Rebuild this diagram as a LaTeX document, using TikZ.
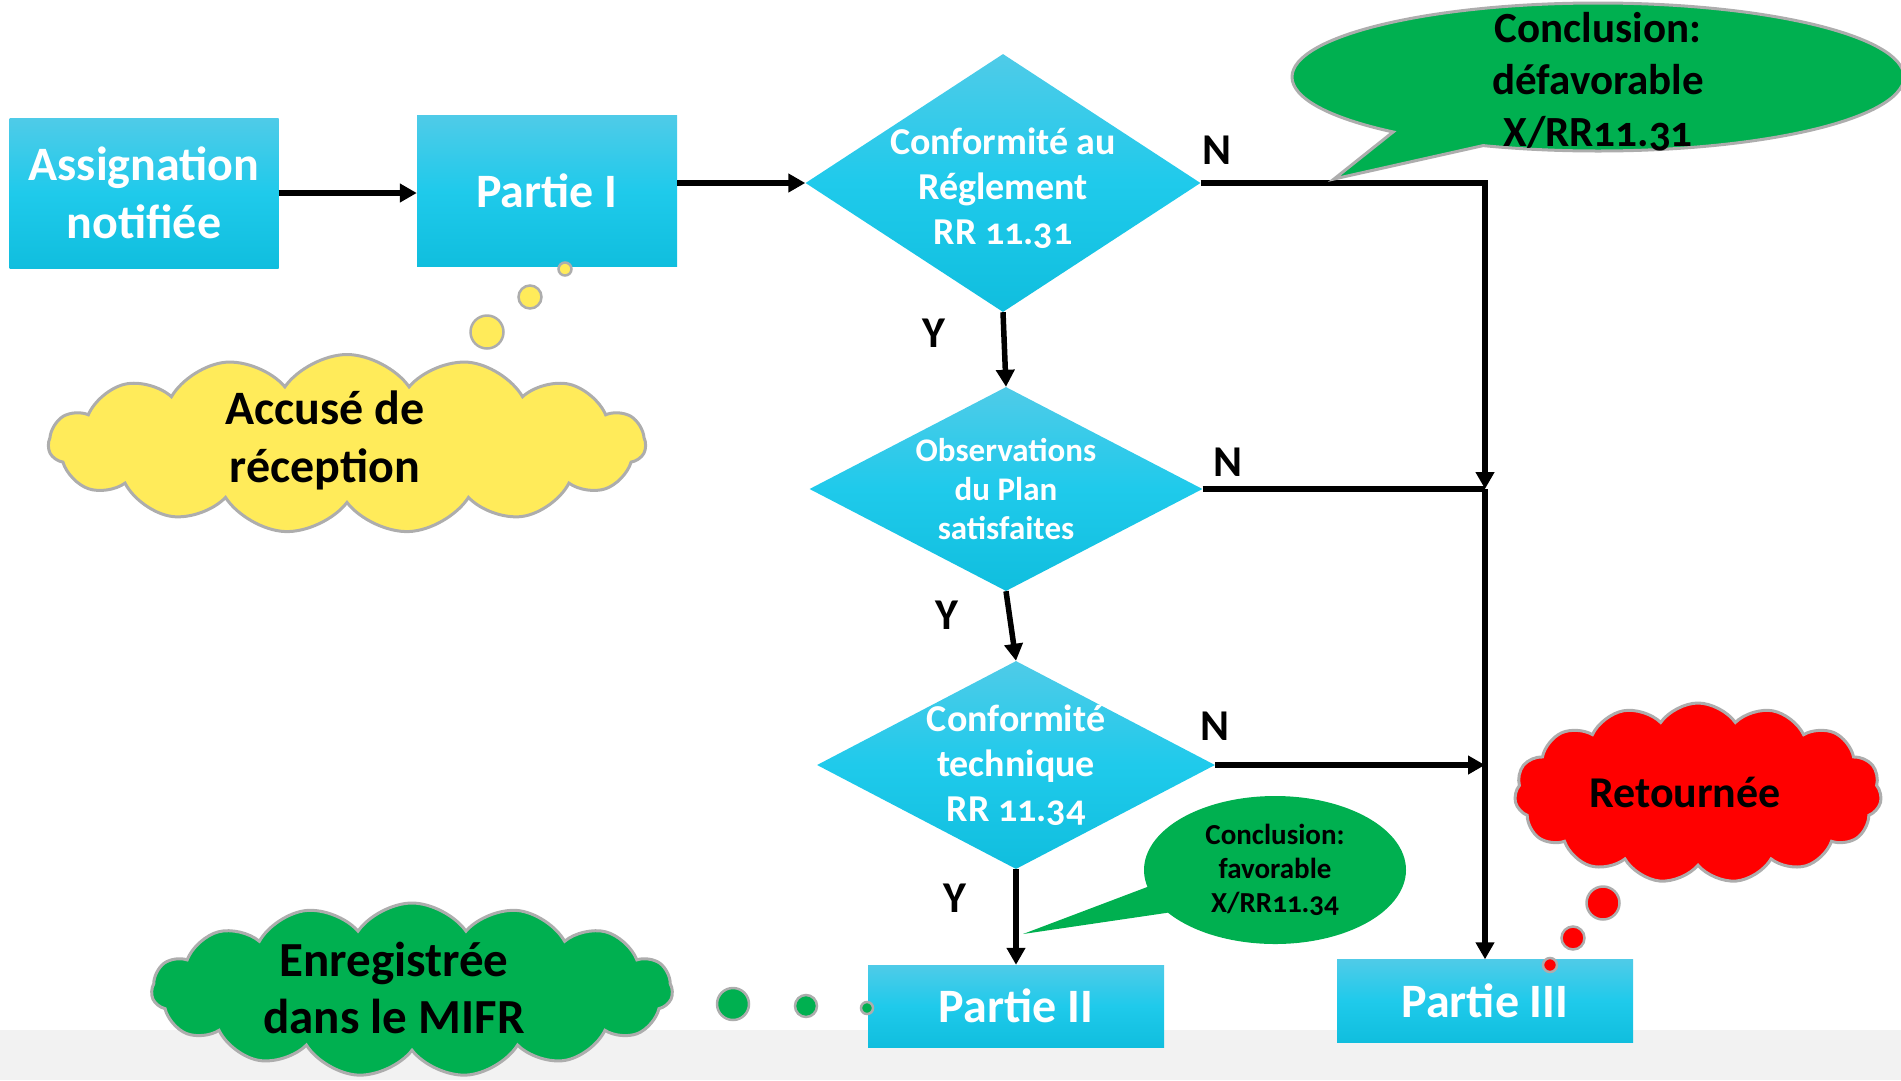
\documentclass[tikz,border=0pt]{standalone}
\usepackage{fontspec}
\setmainfont{Carlito}[Numbers=OldStyle]
\usetikzlibrary{shapes.geometric,shapes.symbols,shapes.callouts,arrows.meta}
\definecolor{boxtop}{HTML}{4FCBE8}
\definecolor{boxmid}{HTML}{1FCAEB}
\definecolor{boxbot}{HTML}{10BEDE}
\definecolor{okgreen}{HTML}{00B050}
\definecolor{ackyellow}{HTML}{FFEB5A}
\definecolor{retred}{HTML}{FF0000}
\definecolor{rimgray}{HTML}{ADADAD}
\definecolor{bandgray}{HTML}{F2F2F2}
\tikzset{
  stage/.style={rectangle, inner sep=0pt, top color=boxtop, bottom color=boxbot, middle color=boxmid,
    text=white, align=center, font=\bfseries\fontsize{48pt}{58pt}\selectfont},
  decision/.style={diamond, inner sep=0pt, top color=boxtop, bottom color=boxbot, middle color=boxmid},
  dlabel/.style={text=white, align=center, font=\bfseries\fontsize{38pt}{45pt}\selectfont},
  flow/.style={-{Triangle[length=17pt,width=18pt]}, line width=5.5pt},
  yn/.style={font=\bfseries\fontsize{44pt}{50pt}\selectfont},
  puff/.style={cloud, cloud puffs=15, cloud puff arc=110, cloud ignores aspect, inner sep=0pt,
    draw=rimgray, line width=3pt},
  bubble/.style={circle, inner sep=0pt, draw=rimgray, line width=2.5pt},
  note/.style={align=center, font=\bfseries\fontsize{48pt}{58pt}\selectfont},
}
\begin{document}
\begin{tikzpicture}[x=1pt, y=-1pt]
\useasboundingbox (0,0) rectangle (1901,1080);
\clip (0,0) rectangle (1901,1080);
\fill[bandgray] (0,1030) rectangle (1901,1080);

% Stages and decisions
\node[stage, minimum width=269pt, minimum height=150pt] (assign) at (144,193) {Assignation\\notifiée};
\node[stage, minimum width=260pt, minimum height=151pt] (p1) at (547,191) {Partie I};
\node[decision, minimum width=395pt, minimum height=258pt] (d1) at (1003,183) {};
\node[dlabel] (d1t) at (1003,188) {Conformité au\\Réglement\\RR 11.31};
\node[decision, minimum width=393pt, minimum height=204pt] (d2) at (1006,489) {};
\node[dlabel, font=\bfseries\fontsize{33pt}{39pt}\selectfont] (d2t) at (d2) {Observations\\du Plan\\satisfaites};
\node[decision, minimum width=398pt, minimum height=208pt] (d3) at (1016,765) {};
\node[dlabel] (d3t) at (d3) {Conformité\\technique\\RR 11.34};
\node[stage, minimum width=296pt, minimum height=82pt] (p2) at (1016,1006) {Partie II};
\node[stage, minimum width=296pt, minimum height=83pt] (p3) at (1485,1001) {Partie III};

% Connectors
\draw[flow] (assign.east) -- (assign.east -| p1.west);
\draw[flow] (d1.west -| p1.east) -- (d1.west);
\draw[flow] (d1.south) -- (d2.north);
\draw[flow] (d2.south) -- (d3.north);
\draw[flow] (d3.south) -- (p2.north);
\draw[flow] (d1.east) -| (d2.east -| p3.north) coordinate (j2);
\draw[line width=5.5pt] (d2.east) -- (j2);
\draw[flow] (d3.east) -- (d3.east -| p3.north);
\draw[flow] (j2) -- (p3.north);

\node[yn] (n1) at (1217,150) {N};
\node[yn] (n2) at (1228,462) {N};
\node[yn] (n3) at (1215,726) {N};
\node[yn] (y1) at (934,333) {Y};
\node[yn] (y2) at (947,615) {Y};
\node[yn] (y3) at (955,898) {Y};

% Conclusions
\coordinate (tipA) at (1334,179);
\node[ellipse callout, callout absolute pointer={(tipA)}, callout pointer arc=20, inner sep=0pt,
  fill=okgreen, draw=rimgray, line width=3pt, minimum width=612pt, minimum height=148pt] (verdictA) at (1598,77) {};
\node[note, font=\bfseries\fontsize{43pt}{52pt}\selectfont] (verdictAt) at (1598,82) {Conclusion:\\défavorable\\X/RR11.31};
\coordinate (tipB) at (1023,934);
\node[ellipse callout, callout absolute pointer={(tipB)}, callout pointer arc=22, inner sep=0pt,
  fill=okgreen, minimum width=262pt, minimum height=148pt] (verdictB) at (1275,870) {};
\node[note, font=\bfseries\fontsize{29pt}{34pt}\selectfont] (verdictBt) at (verdictB) {Conclusion:\\favorable\\X/RR11.34};

% Clouds
\node[puff, fill=ackyellow, minimum width=597pt, minimum height=179pt] (ack) at (347,444) {};
\node[note] (ackt) at (325,440) {Accusé de\\réception};
\node[bubble, fill=ackyellow, minimum size=13pt] (ackb1) at (565,269) {};
\node[bubble, fill=ackyellow, minimum size=23pt] (ackb2) at (530,297) {};
\node[bubble, fill=ackyellow, minimum size=33pt] (ackb3) at (487,332) {};

\node[puff, fill=okgreen, minimum width=521pt, minimum height=174pt] (mifr) at (412,990) {};
\node[note, font=\bfseries\fontsize{49pt}{57pt}\selectfont] (mifrt) at (394,988) {Enregistrée\\dans le MIFR};
\node[bubble, fill=okgreen, minimum size=32pt] (mifrb1) at (733,1004) {};
\node[bubble, fill=okgreen, minimum size=22pt] (mifrb2) at (806,1006) {};
\node[bubble, fill=okgreen, minimum size=12pt] (mifrb3) at (867,1008) {};

\node[puff, fill=retred, minimum width=367pt, minimum height=180pt] (ret) at (1698,793) {};
\node[note, font=\bfseries\fontsize{44pt}{52pt}\selectfont] (rett) at (1685,792) {Retournée};
\node[bubble, fill=retred, minimum size=33pt] (retb1) at (1603,903) {};
\node[bubble, fill=retred, minimum size=23pt] (retb2) at (1573,938) {};
\node[bubble, fill=retred, minimum size=14pt] (retb3) at (1550,965) {};
\end{tikzpicture}
\end{document}
